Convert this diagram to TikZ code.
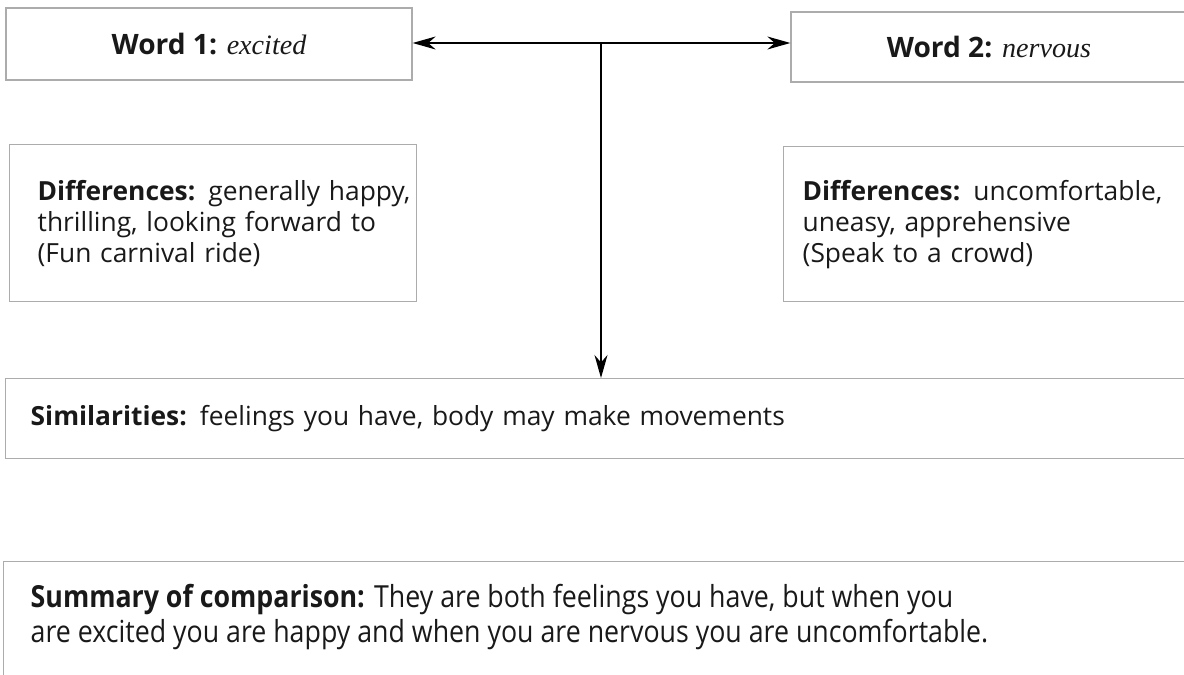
\documentclass[tikz,border=0pt]{standalone}
\usepackage{fontspec}
\setmainfont{Open Sans}
\newfontfamily\wordfont{Liberation Serif}
\newfontfamily\sumfont[FakeStretch=0.88]{Open Sans}
\usetikzlibrary{arrows.meta,positioning}
\tikzset{
    cbox/.style={draw=gray!65,line width=0.8pt,text=black!90,font=\fontsize{15}{17.6}\selectfont},
    tip/.style={line width=0.7pt,>={Stealth[length=0.46cm,width=0.26cm]}}
}
\begin{document}
\begin{tikzpicture}[x=0.02cm,y=-0.02cm]
        \useasboundingbox (0,0) rectangle (1184,675);

        \node[cbox,minimum width=8.12cm,minimum height=1.44cm,font=\fontsize{16}{18}\selectfont] (word1) at (209,44) {\textbf{Word 1:} {\wordfont\itshape excited}};
        \node[cbox,minimum width=7.92cm,minimum height=1.4cm,font=\fontsize{16}{18}\selectfont] (word2) at (989,47) {\textbf{Word 2:} {\wordfont\itshape nervous}};

        \node[cbox,anchor=north west,inner xsep=0.56cm,text width=7.02cm,minimum height=3.14cm,align=left] (diff1) at (9,144)
            {\mbox{\textbf{Differences:} generally happy,}\\thrilling, looking forward to\\(Fun carnival ride)};
        \node[cbox,anchor=north west,inner xsep=0.38cm,text width=7.38cm,minimum height=3.1cm,align=left] (diff2) at (783,146)
            {\mbox{\textbf{Differences:} uncomfortable,}\\uneasy, apprehensive\\(Speak to a crowd)};

        \node[cbox,anchor=north west,inner xsep=0.5cm,text width=22.7cm,minimum height=1.6cm,align=left] (sim) at (5,378)
            {\textbf{Similarities:} feelings you have, body may make movements};
        \node[cbox,anchor=north west,inner xsep=0.54cm,inner ysep=0.45cm,font=\sumfont\fontsize{17.3}{19.9}\selectfont] (summary) at (3,561)
            {\parbox[t][3cm][t]{23cm}{\textbf{Summary of comparison:} They are both feelings you have, but when you\\are excited you are happy and when you are nervous you are uncomfortable.}};

        \coordinate (hub) at (601,43);
        \draw[tip,<->] (word1.east |- hub) -- (word2.west |- hub);
        \draw[tip,->] (hub) -- (sim.north -| hub);
\end{tikzpicture}
\end{document}
